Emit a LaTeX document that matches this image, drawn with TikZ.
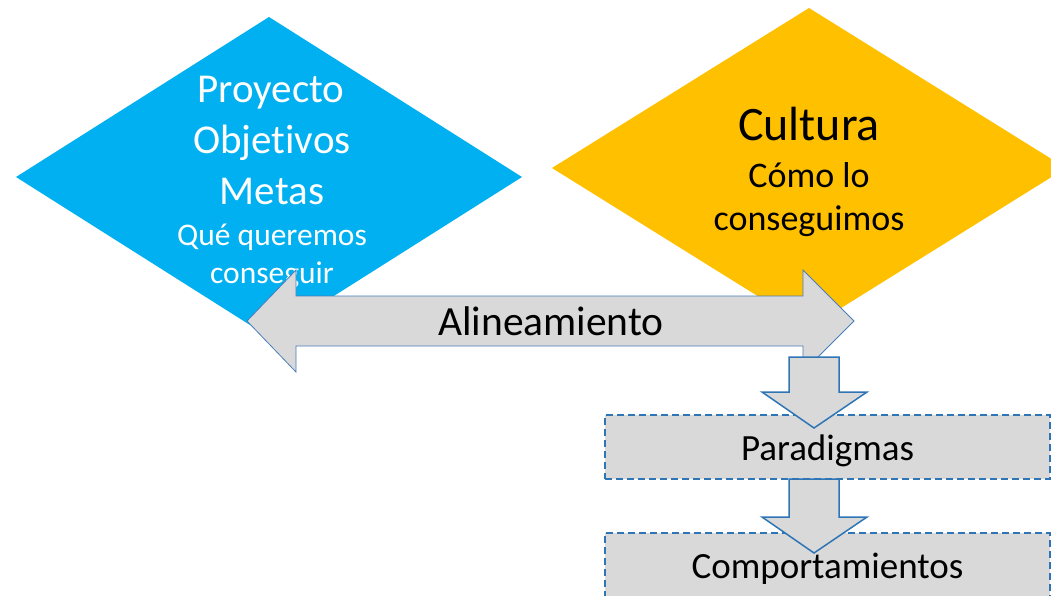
\documentclass[tikz,border=0pt]{standalone}
\usepackage{fontspec}
\setmainfont[Ligatures=NoCommon]{Carlito}
\usepackage{tikz}
\usetikzlibrary{calc,positioning}
\definecolor{celeste}{HTML}{00B0F0}
\definecolor{ambar}{HTML}{FFC000}
\definecolor{grisclaro}{HTML}{D9D9D9}
\definecolor{azulborde}{HTML}{4A7EBB}
\definecolor{azulfuerte}{HTML}{2E75B6}

\begin{document}
\begin{tikzpicture}[x=1pt,y=-1pt,line join=miter,
  txt/.style={anchor=base,inner sep=0pt},
  flecha/.style={fill=grisclaro,draw=azulborde,line width=0.8pt},
  bajada/.style={fill=grisclaro,draw=azulfuerte,line width=1.5pt},
  caja/.style={fill=grisclaro,draw=azulfuerte,line width=1.3pt,dash pattern=on 7pt off 4pt,
    minimum width=445pt,minimum height=64pt,inner sep=0pt,text height=34pt,text depth=8pt,
    font=\fontsize{37}{40}\selectfont}]
\useasboundingbox (0,0) rectangle (1051,595);
% rombos
\fill[celeste] (16,177) -- (269,17) -- (522,177) -- (269,337) -- cycle;
\fill[ambar] (552,168) -- (809,8) -- (1066,168) -- (809,328) -- cycle;
\node[txt,white,font=\fontsize{41}{48}\selectfont] (proy) at (271,102) {Proyecto};
\node[txt,white,font=\fontsize{41}{48}\selectfont] (obj) at (272,153) {Objetivos};
\node[txt,white,font=\fontsize{41}{48}\selectfont] (metas) at (272,204) {Metas};
\node[txt,white,font=\fontsize{31.5}{36}\selectfont] (quer) at (272,245) {Qué queremos};
\node[txt,white,font=\fontsize{31.5}{36}\selectfont] (consq) at (272,283) {conseguir};
\node[txt,font=\fontsize{48}{56}\selectfont] (cult) at (809,140) {Cultura};
\node[txt,font=\fontsize{36}{42}\selectfont] (como) at (809,187) {Cómo lo};
\node[txt,font=\fontsize{36}{42}\selectfont] (consm) at (809,230) {conseguimos};
% flecha doble
\draw[flecha] (247,321) -- (296,270) -- (296,296) -- (803,296) -- (803,270) -- (854,321)
  -- (803,372) -- (803,346) -- (296,346) -- (296,372) -- cycle;
\node[txt,font=\fontsize{41.5}{48}\selectfont] (alin) at (551,335) {Alineamiento};
% cajas
\node[caja] (parad) at (827.5,447) {Paradigmas};
\node[caja] (comp) at (827.5,565) {Comportamientos};
% flechas hacia abajo
\draw[bajada] (789,357) -- (839,357) -- (839,392) -- (867,392) -- (814,428) -- (762,392) -- (789,392) -- cycle;
\draw[bajada] (789,479) -- (839,479) -- (839,517) -- (867,517) -- (814,553) -- (762,517) -- (789,517) -- cycle;
\end{tikzpicture}
\end{document}
